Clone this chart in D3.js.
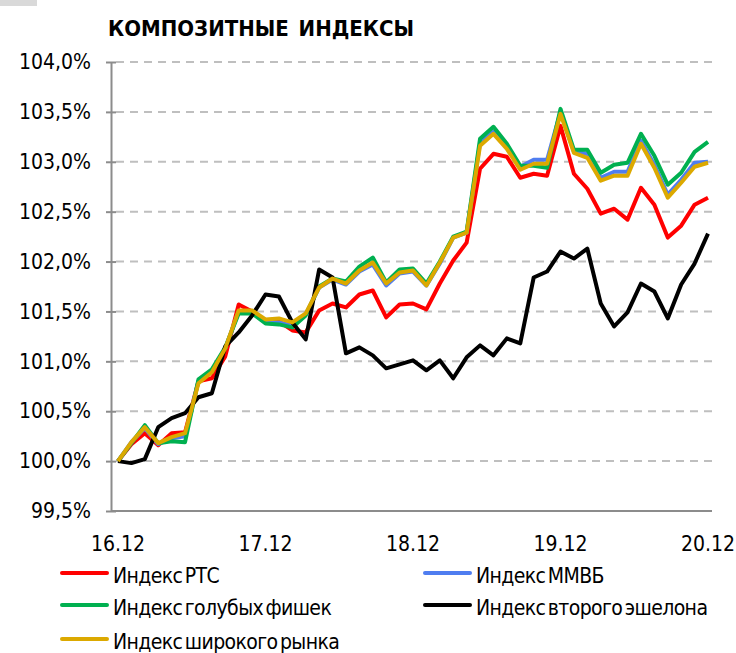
<!DOCTYPE html>
<html>
<head>
<meta charset="utf-8">
<script src="https://cdn.jsdelivr.net/npm/d3@7"></script>
<style>
body { margin: 0; background: #fff; }
text { font-family: "DejaVu Sans Condensed", "DejaVu Sans", sans-serif; }
</style>
</head>
<body>
<div id="chart"></div>
<script>
var width = 736, height = 653;

var dateLabels = ["16.12", "17.12", "18.12", "19.12", "20.12"];
var dateIndex = [0, 11, 22, 33, 44];
var yTicks = [99.5, 100, 100.5, 101, 101.5, 102, 102.5, 103, 103.5, 104];

var rts = [100.0, 100.17, 100.28, 100.16, 100.28, 100.29, 100.8, 100.83, 101.05, 101.57,
	101.5, 101.41, 101.4, 101.31, 101.29, 101.51, 101.58, 101.54, 101.67, 101.71,
	101.44, 101.57, 101.58, 101.52, 101.78, 102.01, 102.19, 102.93, 103.08, 103.05,
	102.84, 102.88, 102.86, 103.36, 102.88, 102.73, 102.48, 102.53, 102.42, 102.74,
	102.57, 102.24, 102.36, 102.57, 102.64];
var micex = [100.0, 100.19, 100.33, 100.17, 100.23, 100.25, 100.8, 100.9, 101.13, 101.5,
	101.49, 101.39, 101.39, 101.36, 101.47, 101.74, 101.82, 101.77, 101.9, 101.97,
	101.76, 101.88, 101.9, 101.76, 101.98, 102.24, 102.29, 103.19, 103.3, 103.15,
	102.95, 103.02, 103.02, 103.5, 103.1, 103.08, 102.84, 102.9, 102.9, 103.21,
	102.97, 102.67, 102.82, 102.99, 103.0];
var blueChips = [100.0, 100.18, 100.36, 100.18, 100.2, 100.19, 100.82, 100.92, 101.14, 101.48,
	101.48, 101.38, 101.37, 101.34, 101.46, 101.75, 101.83, 101.8, 101.95, 102.04,
	101.79, 101.92, 101.93, 101.78, 102.0, 102.25, 102.3, 103.23, 103.35, 103.18,
	102.96, 102.96, 102.94, 103.53, 103.12, 103.12, 102.89, 102.97, 102.99, 103.28,
	103.06, 102.77, 102.89, 103.1, 103.2];
var secondTier = [100.0, 99.98, 100.02, 100.34, 100.43, 100.48, 100.64, 100.68, 101.15, 101.29,
	101.46, 101.67, 101.65, 101.39, 101.22, 101.92, 101.84, 101.08, 101.14, 101.06,
	100.93, 100.97, 101.01, 100.91, 101.01, 100.83, 101.04, 101.16, 101.06, 101.23,
	101.18, 101.84, 101.9, 102.1, 102.03, 102.13, 101.58, 101.35, 101.49, 101.78,
	101.7, 101.43, 101.77, 101.98, 102.28];
var broad = [100.0, 100.19, 100.34, 100.18, 100.24, 100.28, 100.78, 100.89, 101.13, 101.51,
	101.51, 101.42, 101.43, 101.39, 101.48, 101.74, 101.83, 101.78, 101.91, 101.99,
	101.78, 101.89, 101.91, 101.76, 101.99, 102.24, 102.29, 103.16, 103.28, 103.13,
	102.92, 102.98, 102.98, 103.48, 103.09, 103.04, 102.81, 102.86, 102.86, 103.18,
	102.94, 102.64, 102.79, 102.95, 102.99];

var seriesNames = ["Индекс РТС", "Индекс ММВБ", "Индекс голубых фишек", "Индекс второго эшелона", "Индекс широкого рынка"];
var seriesColors = ["#ff0000", "#4f7df0", "#00b050", "#000000", "#dca900"];
var seriesData = [rts, micex, blueChips, secondTier, broad];

var svg = d3.select("#chart").append("svg")
	.attr("width", width)
	.attr("height", height);

// small grey block in the corner of the original
svg.append("rect").attr("x", 0).attr("y", 0).attr("width", 37).attr("height", 6).attr("fill", "#d9d9d9");

var x = d3.scaleLinear().domain([0, 44]).range([118, 708]);
var y = d3.scaleLinear().domain([99.5, 104]).range([511, 62]);

svg.append("text")
	.attr("x", 108).attr("y", 36)
	.attr("font-size", 22).attr("font-weight", "bold")
	.style("white-space", "pre")
	.style("word-spacing", "-2px")
	.text("КОМПОЗИТНЫЕ  ИНДЕКСЫ");

// grid
svg.selectAll("line.grid").data(yTicks.slice(1)).enter().append("line")
	.attr("class", "grid")
	.attr("x1", 116).attr("x2", 712)
	.attr("y1", d => y(d)).attr("y2", d => y(d))
	.attr("stroke", "#bfbfbf").attr("stroke-width", 2)
	.attr("stroke-dasharray", "8,6");

var yAxis = d3.axisLeft(y).tickValues(yTicks).tickSize(0)
	.tickFormat(d => d3.format(".1f")(d).replace(".", ",") + "%");
var yg = svg.append("g").attr("transform", "translate(111,0)").call(yAxis);
yg.select(".domain").attr("stroke", "#8c8c8c").attr("stroke-width", 2);
yg.selectAll(".tick line").attr("x1", -5).attr("x2", 5)
	.attr("stroke", "#8c8c8c").attr("stroke-width", 2);
yg.selectAll(".tick text").attr("font-size", 21).attr("fill", "#000").attr("x", -20)
	.attr("font-family", "DejaVu Sans Condensed");

svg.append("line").attr("x1", 111).attr("x2", 712).attr("y1", 511).attr("y2", 511)
	.attr("stroke", "#8c8c8c").attr("stroke-width", 2);

svg.selectAll("text.xlab").data(dateLabels).enter().append("text")
	.attr("class", "xlab")
	.attr("x", (d, i) => x(dateIndex[i]))
	.attr("y", 551)
	.attr("text-anchor", "middle")
	.attr("font-size", 21)
	.text(d => d);

var line = d3.line().x((d, i) => x(i)).y(d => y(d));

seriesData.forEach((s, k) => {
	svg.append("path")
		.datum(s)
		.attr("d", line)
		.attr("fill", "none")
		.attr("stroke", seriesColors[k])
		.attr("stroke-width", 4)
		.attr("stroke-linejoin", "round");
});

// legend
var legendPos = [[62, 573], [425, 573], [62, 605], [425, 605], [62, 639]];
seriesNames.forEach((name, k) => {
	var p = legendPos[k];
	svg.append("line")
		.attr("x1", p[0]).attr("x2", p[0] + 45)
		.attr("y1", p[1]).attr("y2", p[1])
		.attr("stroke", seriesColors[k]).attr("stroke-width", 4).attr("stroke-linecap", "round");
	svg.append("text")
		.attr("x", p[0] + 51).attr("y", p[1] + 10)
		.attr("font-size", 21)
		.style("letter-spacing", "-0.6px")
		.style("word-spacing", "-3px")
		.text(name);
});
</script>
</body>
</html>
